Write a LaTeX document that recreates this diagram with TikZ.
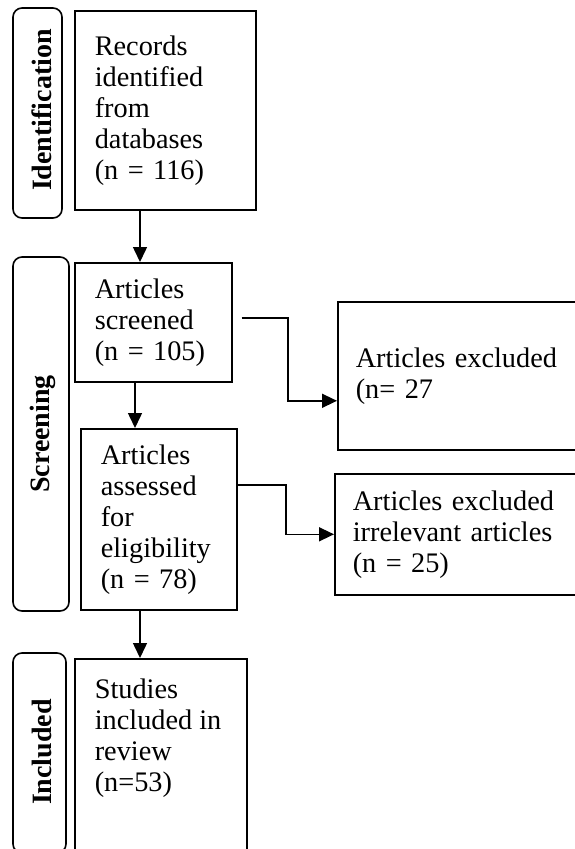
\documentclass[tikz,border=0pt]{standalone}
\usepackage{fontspec}
\setmainfont{Liberation Serif}
\usetikzlibrary{arrows.meta}
\tikzset{
  box/.style={draw, line width=1.6pt, rectangle, anchor=north west, align=left,
    inner xsep=20pt, inner ysep=0pt, font=\fontsize{28.3}{31}\selectfont},
  stagebox/.style={draw, line width=1.6pt, rectangle, rounded corners=9pt, inner sep=0pt},
  stagetext/.style={rotate=90, inner sep=0pt, font=\fontsize{28}{32}\selectfont\bfseries},
  arr/.style={line width=1.5pt, -{Triangle[length=15pt,width=14pt]}}
}
\begin{document}
\begin{tikzpicture}[x=1pt,y=-1pt]
\useasboundingbox (0,0) rectangle (575,849);
\clip (0,0) rectangle (575,849);
\fill[white] (0,0) rectangle (575,849);

% stage labels
\node[stagebox, minimum width=49pt, minimum height=210pt] (idb) at (37.5,113) {};
\node[stagetext] (idt) at (42,110) {Identification};
\node[stagebox, minimum width=56pt, minimum height=354pt] (scb) at (41,434) {};
\node[stagetext] (sct) at (43,434) {Screening};
\node[stagebox, minimum width=53pt, minimum height=200pt] (inb) at (39.5,753) {};
\node[stagetext] (int) at (42,752) {Included};

% main boxes
\node[box, minimum height=199pt, text width=141pt] (rec) at (74,10)
  {Records\\identified\\from\\databases\\(n = 116)};
\node[box, minimum height=119pt, text width=117pt] (scr) at (74,262)
  {Articles\\screened\\(n = 105)};
\node[box, minimum height=181pt, text width=116pt] (asm) at (80,428)
  {Articles\\assessed\\for\\eligibility\\(n = 78)};
\node[box, inner ysep=20pt] (stu) at (74,658)
  {\parbox[c][190pt][t]{132pt}{Studies\\included in\\review\\(n=53)}};

% excluded boxes
\node[box, inner xsep=18pt, minimum height=148pt, text width=220pt] (ex1) at (337,301)
  {Articles excluded\\(n= 27};
\node[box, inner xsep=18pt, minimum height=121pt, text width=222pt] (ex2) at (334,473)
  {Articles excluded\\irrelevant articles\\(n = 25)};

% connectors
\draw[arr] ([xshift=66pt]rec.south west) -- ([xshift=66pt]scr.north west);
\draw[arr] ([xshift=61pt]scr.south west) -- ([xshift=55pt]asm.north west);
\draw[arr] ([xshift=60pt]asm.south west) -- ([xshift=66pt]stu.north west);
\draw[arr] ([shift={(9pt,4.5pt)}]scr.east) -| ([shift={(-49pt,-25pt)}]ex1.west) -- ([yshift=-25pt]ex1.west);
\draw[arr] ([yshift=34.5pt]asm.east) -| ([xshift=-48pt]ex2.west) -- (ex2.west);
\end{tikzpicture}
\end{document}
